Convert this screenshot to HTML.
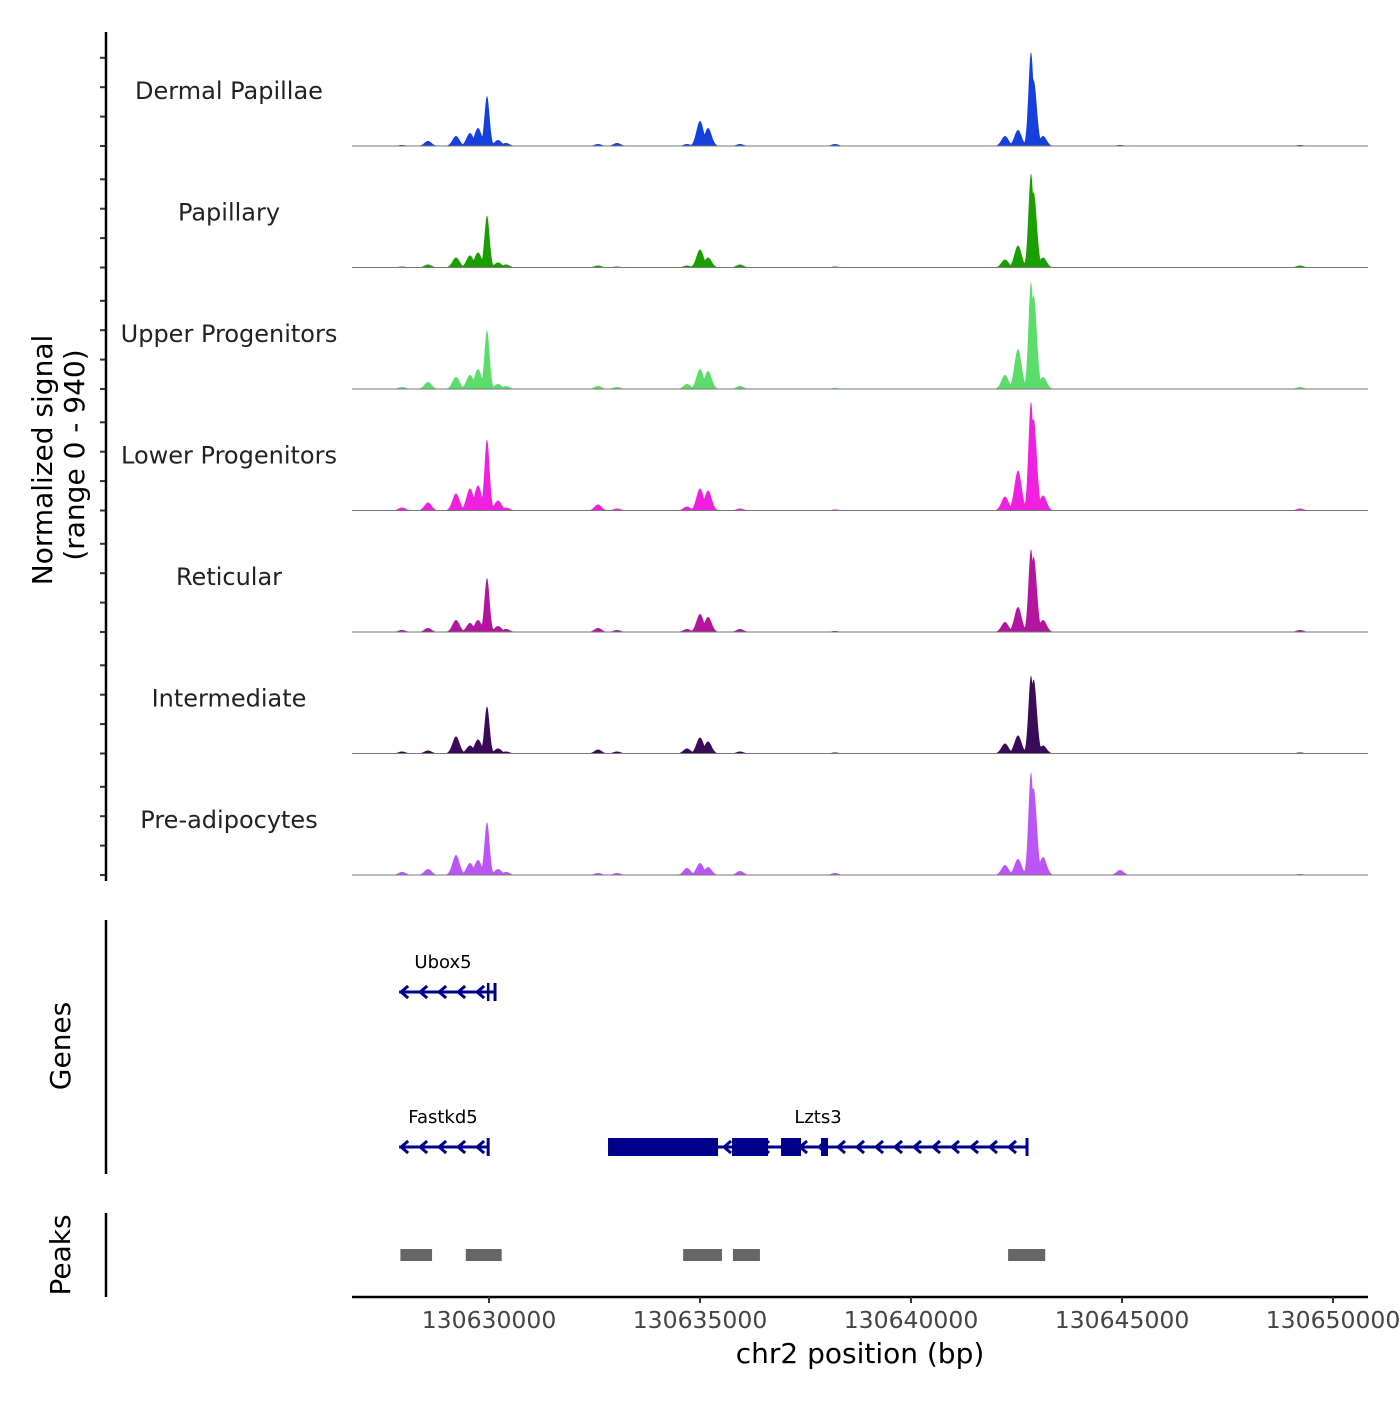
<!DOCTYPE html>
<html><head><meta charset="utf-8"><style>
body{margin:0;background:#fff}
svg{font-family:"DejaVu Sans","Liberation Sans",sans-serif}
</style></head><body>
<svg id="c" width="1400" height="1400" viewBox="0 0 1400 1400"></svg>
<script>
const trackNames=["Dermal Papillae","Papillary","Upper Progenitors","Lower Progenitors","Reticular","Intermediate","Pre-adipocytes"];
const trackColors=["#1540dd","#1a9e00","#5cdc6a","#f020e0","#b3159f","#3a0b58","#bb55f5"];
const peakPos=[130627938,130628554,130629218,130629550,130629739,130629952,130630213,130630402,130632583,130633033,130634692,130635000,130635190,130635948,130638199,130642227,130642535,130642843,130642905,130643128,130644953,130649218];
const sigDermal=[9,43,85,110,153,425,51,26,17,26,17,213,153,17,17,85,136,800,560,85,9,9];
const sigPapillary=[9,26,85,102,128,442,43,26,17,9,17,153,85,26,9,68,187,800,640,85,0,17];
const sigUpper=[17,60,102,119,170,500,43,26,26,17,43,170,153,26,9,119,340,910,800,102,0,17];
const sigLower=[26,68,145,187,213,604,85,26,51,17,34,187,170,17,9,119,340,927,780,128,0,17];
const sigReticular=[17,34,102,77,102,460,51,26,34,17,26,153,128,26,9,85,213,705,640,102,0,17];
const sigIntermediate=[17,26,145,68,119,400,43,17,34,17,43,136,102,17,9,85,153,663,630,68,0,9];
const sigPreadipo=[26,51,170,102,128,450,51,26,17,17,60,102,68,34,17,85,136,876,740,153,43,9];
const signals=[sigDermal,sigPapillary,sigUpper,sigLower,sigReticular,sigIntermediate,sigPreadipo];
const xTicks=[130630000,130635000,130640000,130645000,130650000];
const yTicks=[0,250,500,750];
const peakRegions=[[130627900,130628650],[130629450,130630300],[130634600,130635520],[130635780,130636420],[130642300,130643180]];
const genes=[
 {name:"Ubox5",start:130627870,end:130630142,row:0,exons:[[130629950,130630010]]},
 {name:"Fastkd5",start:130627870,end:130629980,row:1,exons:[]},
 {name:"Lzts3",start:130632820,end:130642749,row:1,exons:[[130632820,130635427],[130635759,130636612],[130636920,130637394],[130637867,130638033]]}
];
const X0=130626753,PX=211/5000,L=352,R=1368;
const xs=b=>L+(b-X0)*PX;
const YS=0.1176;
const svg=document.getElementById('c');
const NS="http://www.w3.org/2000/svg";
function mk(t,a,p){const e=document.createElementNS(NS,t);for(const k in a)e.setAttribute(k,a[k]);(p||svg).appendChild(e);return e;}
function txt(s,a){const e=mk('text',a);e.textContent=s;return e;}
for(let t=0;t<7;t++){
 const base=146+t*121.5;
 const g=mk('g',{});
 
 
 let d="M"+L+","+base;
 for(let x=L;x<=R;x+=0.5){
  const b=X0+(x-L)/PX;let v=0;
  for(let i=0;i<peakPos.length;i++){const s=(i==17||i==5)?60:(i==18?75:85);const z=(b-peakPos[i])/s;v=Math.max(v,signals[t][i]*Math.exp(-0.5*z*z));}
  d+=" L"+x+","+(base-v*YS).toFixed(2);
 }
 d+=" L"+R+","+base+"Z";
 const p=mk('path',{d:d,fill:trackColors[t]},g);
 
 const bl=mk('line',{x1:L,x2:R,y1:base,y2:base,stroke:'#777','stroke-width':1},g);
 
 const lb=txt(trackNames[t],{x:229,y:base-47,'text-anchor':'middle','font-size':24,fill:'#222'});
 
 yTicks.forEach(v=>{const tk=mk('line',{x1:100,x2:106,y1:base-v*YS,y2:base-v*YS,stroke:'#333','stroke-width':2});
  });
}
mk('line',{x1:106,x2:106,y1:32,y2:881,stroke:'#000','stroke-width':2.5,});
mk('line',{x1:106,x2:106,y1:920,y2:1174,stroke:'#000','stroke-width':2.5,});
mk('line',{x1:106,x2:106,y1:1213,y2:1297,stroke:'#000','stroke-width':2.5,});
txt("Normalized signal",{x:0,y:0,transform:"translate(52,460) rotate(-90)",'text-anchor':'middle','font-size':28,});
txt("(range 0 - 940)",{x:0,y:0,transform:"translate(84,455) rotate(-90)",'text-anchor':'middle','font-size':28,});
txt("Genes",{x:0,y:0,transform:"translate(70,1046) rotate(-90)",'text-anchor':'middle','font-size':28,});
txt("Peaks",{x:0,y:0,transform:"translate(70,1255) rotate(-90)",'text-anchor':'middle','font-size':28,});
const C="#00008b";
genes.forEach(gn=>{
 const y=gn.row?1147:992;const g=mk('g',{});
 
 const x1=xs(gn.start),x2=xs(gn.end);
 mk('line',{x1:x1,x2:x2,y1:y,y2:y,stroke:C,'stroke-width':3},g);
 for(let x=x1+2;x<x2-6;x+=19){mk('path',{d:`M${x+7},${y-6} L${x},${y} L${x+7},${y+6}`,stroke:C,fill:'none','stroke-width':3},g);}
 mk('line',{x1:x2,x2:x2,y1:y-9,y2:y+9,stroke:C,'stroke-width':3},g);
 gn.exons.forEach(e=>mk('rect',{x:xs(e[0]),y:y-9,width:xs(e[1])-xs(e[0]),height:18,fill:C},g));
 const lx={Ubox5:443,Fastkd5:443,Lzts3:818}[gn.name];
 txt(gn.name,{x:lx,y:y-24,'text-anchor':'middle','font-size':18,fill:'#000'},g);
});
peakRegions.forEach(r=>{const e=mk('rect',{x:xs(r[0]),y:1249,width:xs(r[1])-xs(r[0]),height:12,fill:'#666'});
 });
mk('line',{x1:L,x2:R,y1:1297,y2:1297,stroke:'#000','stroke-width':2.5,});
xTicks.forEach(v=>{const tk=mk('line',{x1:xs(v),x2:xs(v),y1:1297,y2:1303,stroke:'#333','stroke-width':2});
 
 const l=txt(String(v),{x:xs(v),y:1328,'text-anchor':'middle','font-size':23.5,fill:'#444'});
 });
txt("chr2 position (bp)",{x:860,y:1363,'text-anchor':'middle','font-size':28,});
</script>
</body></html>
